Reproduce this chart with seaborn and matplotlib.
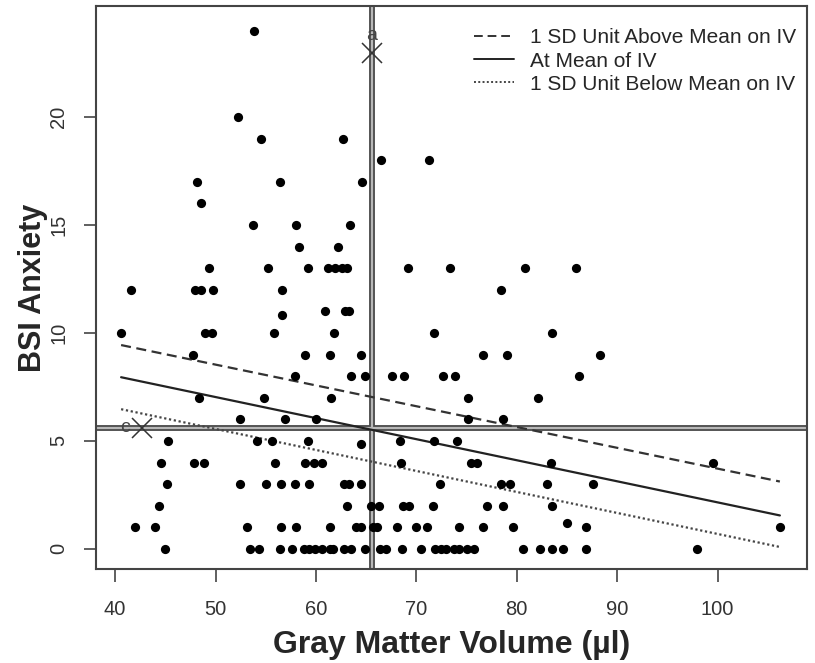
import numpy as np
import pandas as pd
import matplotlib
matplotlib.use("Agg")
import matplotlib.pyplot as plt
import seaborn as sns
from matplotlib.lines import Line2D

# ---------------- data ----------------
gmv = [
    53.8,                                   # 24
    52.2,                                   # 20
    54.5, 62.7,                             # 19
    66.5, 71.3,                             # 18
    48.2, 56.4, 64.6,                       # 17
    48.6,                                   # 16
    53.7, 58.0, 63.4,                       # 15
    58.3, 62.2,                             # 14
    49.4, 55.2, 59.2, 61.2, 61.9, 62.6, 63.1, 69.2, 73.4, 80.8, 85.9,   # 13
    41.6, 48.0, 48.6, 49.8, 56.6, 78.4,     # 12
    56.6, 60.9, 62.9, 63.3,                 # 11
    40.6, 49.0, 49.7, 55.8, 61.8, 71.8, 83.5,   # 10
    47.8, 58.9, 61.4, 64.5, 76.6, 79.0, 88.3,   # 9
    57.9, 63.5, 64.9, 67.6, 68.8, 72.7, 73.8, 86.2,   # 8
    48.4, 54.8, 61.5, 75.1, 82.1,           # 7
    52.4, 56.9, 60.0, 75.1, 78.6,           # 6
    45.3, 54.1, 55.6, 59.2, 64.5, 68.4, 71.8, 74.0,   # 5
    44.6, 47.9, 48.9, 55.9, 58.9, 59.8, 60.6, 68.5, 75.4, 76.0, 83.4, 99.5,   # 4
    45.2, 52.4, 55.0, 56.5, 57.9, 59.3, 62.8, 63.3, 64.5, 72.4, 78.4, 79.3, 83.0, 87.6,   # 3
    44.4, 63.1, 65.5, 66.3, 68.7, 69.3, 71.7, 77.0, 78.6, 83.5,   # 2
    42.0, 44.0, 53.1, 56.5, 58.0, 61.4, 64.0, 64.5, 65.7, 66.1, 68.1, 70.0, 71.1,
    74.2, 76.6, 79.6, 85.0, 86.9, 106.2,    # 1
    45.0, 53.4, 54.3, 56.4, 57.6, 58.8, 59.3, 59.9, 60.6, 61.4, 61.7, 62.8, 63.5,
    64.9, 66.4, 67.0, 68.6, 70.5, 71.9, 72.5, 73.0, 73.7, 74.2, 75.0, 75.7, 80.6,
    82.3, 83.5, 84.6, 86.9, 97.9,           # 0
]
bsi = (
    [24] * 1 + [20] * 1 + [19] * 2 + [18] * 2 + [17] * 3 + [16] * 1 + [15] * 3 +
    [14] * 2 + [13] * 11 + [12] * 6 + [10.85, 11, 11, 11] + [10] * 7 + [9] * 7 +
    [8] * 8 + [7] * 5 + [6] * 5 + [5, 5, 5, 5, 4.85, 5, 5, 5] + [4] * 12 +
    [3] * 14 + [2] * 10 + [1] * 16 + [1.19, 1, 1] + [0] * 31
)

line_x = [40.6, 106.2]
above_sd = [9.44, 3.12]
at_mean = [7.95, 1.55]
below_sd = [6.47, 0.09]

mean_gmv = 65.57
mean_bsi = 5.6
point_a = [65.57, 22.95]
point_c = [42.66, 5.6]

x_ticks = [40, 50, 60, 70, 80, 90, 100]
y_ticks = [0, 5, 10, 15, 20]
legend_labels = ["1 SD Unit Above Mean on IV", "At Mean of IV", "1 SD Unit Below Mean on IV"]

# ---------------- style ----------------
sns.set_theme(style="white")
plt.rcParams["font.family"] = ["Liberation Sans", "DejaVu Sans"]

W, H = 815, 663
fig = plt.figure(figsize=(W / 100, H / 100), dpi=100)
ax = fig.add_axes([96 / W, 1 - 569 / H, (807 - 96) / W, (569 - 6) / H])

df = pd.DataFrame({"gmv": gmv, "bsi": bsi})
sns.scatterplot(data=df, x="gmv", y="bsi", ax=ax, color="black", s=44,
                linewidth=0, zorder=4, legend=False)

# reference (mean) lines: double-line look
for lw, c in [(4.2, "#4a4a4a"), (1.6, "#b8b8b8")]:
    ax.axvline(mean_gmv, color=c, lw=lw, zorder=2)
    ax.axhline(mean_bsi, color=c, lw=lw, zorder=2)

dash_style = (0, (4.5, 2.5))
dot_style = (0, (1, 1.2))
sns.lineplot(x=line_x, y=above_sd, ax=ax, color="#333333", lw=1.6, linestyle=dash_style, zorder=3)
sns.lineplot(x=line_x, y=at_mean, ax=ax, color="#222222", lw=1.6, linestyle="-", zorder=3)
sns.lineplot(x=line_x, y=below_sd, ax=ax, color="#444444", lw=1.6, linestyle=dot_style, zorder=3)

# a / c markers
ax.plot([point_a[0]], [point_a[1]], marker="x", ms=15, mew=1.1, color="#333333", ls="none", zorder=5)
ax.plot([point_c[0]], [point_c[1]], marker="x", ms=15, mew=1.1, color="#333333", ls="none", zorder=5)
ax.text(point_a[0], point_a[1] + 0.45, "a", ha="center", va="bottom", fontsize=14, color="#444444")
ax.text(point_c[0] - 1.7, point_c[1], "c", ha="center", va="center", fontsize=14, color="#444444")

ax.set_xlim(38.1, 108.9)
ax.set_ylim(-0.93, 25.14)
ax.set_xticks(x_ticks)
ax.set_yticks(y_ticks)
ax.set_xticklabels([str(v) for v in x_ticks], fontsize=14.5, color="#333333")
ax.set_yticklabels([str(v) for v in y_ticks], fontsize=14.5, color="#333333", rotation=90, va="center")
ax.tick_params(axis="both", which="major", direction="out", length=9, width=1.2,
               color="#444444", left=True, bottom=True)
ax.tick_params(axis="x", pad=13)
ax.tick_params(axis="y", pad=11)
for s in ax.spines.values():
    s.set_color("#444444")
    s.set_linewidth(1.5)

ax.set_xlabel("Gray Matter Volume (\u00b5l)", fontsize=23, fontweight="bold", labelpad=8)
ax.set_ylabel("BSI Anxiety", fontsize=22, fontweight="bold", labelpad=1)

handles = [
    Line2D([0], [0], color="#333333", lw=1.4, linestyle=dash_style),
    Line2D([0], [0], color="#222222", lw=1.4, linestyle="-"),
    Line2D([0], [0], color="#444444", lw=1.4, linestyle=dot_style),
]
ax.legend(handles, legend_labels, loc="upper right", frameon=False, fontsize=15,
          handlelength=1.9, handletextpad=0.8, labelspacing=0.2,
          borderaxespad=0.0, bbox_to_anchor=(0.997, 0.975))

fig.savefig("out.png", dpi=100)
